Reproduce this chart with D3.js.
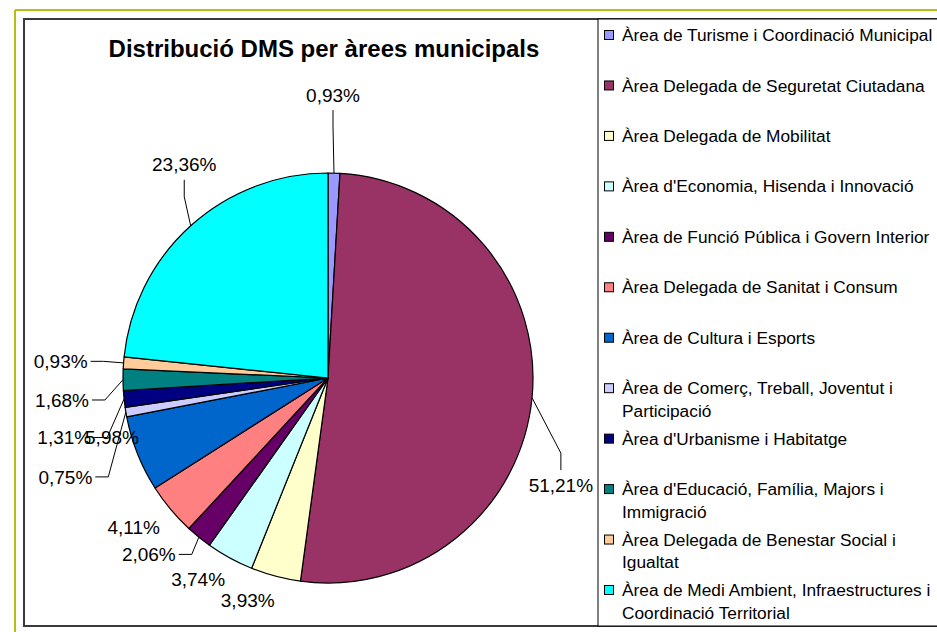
<!DOCTYPE html>
<html>
<head>
<meta charset="utf-8">
<script src="https://cdn.jsdelivr.net/npm/d3@7"></script>
<style>
  body { margin: 0; background: #fff; }
  svg { display: block; }
  text { font-family: "Liberation Sans", Arial, sans-serif; fill: #000; }
</style>
</head>
<body>
<svg id="chart" width="937" height="632"></svg>
<script>
/**
 * Pie chart: Distribució DMS per àrees municipals.
 * Values, in the order excel drew them (clockwise from 12 o'clock).
 */
var title = "Distribució DMS per àrees municipals";

var areas = [
  "Àrea de Turisme i Coordinació Municipal",
  "Àrea Delegada de Seguretat Ciutadana",
  "Àrea Delegada de Mobilitat",
  "Àrea d'Economia, Hisenda i Innovació",
  "Àrea de Funció Pública i Govern Interior",
  "Àrea Delegada de Sanitat i Consum",
  "Àrea de Cultura i Esports",
  "Àrea de Comerç, Treball, Joventut i Participació",
  "Àrea d'Urbanisme i Habitatge",
  "Àrea d'Educació, Família, Majors i Immigració",
  "Àrea Delegada de Benestar Social i Igualtat",
  "Àrea de Medi Ambient, Infraestructures i Coordinació Territorial"
];

var percents = [0.93, 51.21, 3.93, 3.74, 2.06, 4.11, 5.98, 0.75, 1.31, 1.68, 0.93, 23.36];

var colors = ["#9999FF", "#993366", "#FFFFCC", "#CCFFFF", "#660066", "#FF8080",
              "#0066CC", "#CCCCFF", "#000080", "#008080", "#FFCC99", "#00FFFF"];

// labels were dragged around by hand in the original, so nudge them from the radial spot
var labelNudge = [[-2, -43], [-6, 84], [-19, -10], [-15, -9], [-28, -10], [-10, -4],
                  [7, -29], [-26, 59], [-25, 35], [-26, 20], [-28, 1], [17, -35]];

var svg = d3.select("#chart");

// outer frame (olive) and chart area border
svg.append("line").attr("x1", 15).attr("y1", 10).attr("x2", 937).attr("y2", 10)
  .attr("stroke", "#B4BE13").attr("stroke-width", 2);
svg.append("line").attr("x1", 15).attr("y1", 10).attr("x2", 15).attr("y2", 632)
  .attr("stroke", "#B4BE13").attr("stroke-width", 2);

svg.append("rect").attr("x", 24).attr("y", 19).attr("width", 940).attr("height", 607)
  .attr("fill", "#fff").attr("stroke", "#3a3a3a").attr("stroke-width", 2);

// title
svg.append("text")
  .attr("x", 324).attr("y", 57)
  .attr("text-anchor", "middle")
  .style("font-size", "24px").style("font-weight", "bold")
  .text(title);

// pie
var cx = 328, cy = 378, radius = 205;

var pie = d3.pie().sort(null).value(d => d)(percents);
var arc = d3.arc().innerRadius(0).outerRadius(radius);

var g = svg.append("g").attr("transform", "translate(" + cx + "," + cy + ")");

g.selectAll("path.slice")
  .data(pie)
  .enter()
  .append("path")
  .attr("class", "slice")
  .attr("d", arc)
  .attr("fill", (d, i) => colors[i])
  .attr("stroke", "#000")
  .attr("stroke-width", 1.2)
  .attr("stroke-linejoin", "round");

function polar(a, r) {
  return [Math.sin(a) * r, -Math.cos(a) * r];
}

var fmt = d3.format(".2f");

var labels = g.selectAll("text.lbl")
  .data(pie)
  .enter()
  .append("text")
  .attr("class", "lbl")
  .attr("text-anchor", "middle")
  .attr("dy", "0.35em")
  .style("font-size", "19px")
  .attr("x", (d, i) => polar((d.startAngle + d.endAngle) / 2, 240)[0] + labelNudge[i][0])
  .attr("y", (d, i) => polar((d.startAngle + d.endAngle) / 2, 240)[1] + labelNudge[i][1])
  .text(d => fmt(d.value).replace(".", ",") + "%");

// leader lines for the labels that sit away from their slice
labels.each(function (d, i) {
  var mid = (d.startAngle + d.endAngle) / 2;
  var edge = polar(mid, radius);
  var lx = +this.getAttribute("x"), ly = +this.getAttribute("y");
  var dx = edge[0] - lx, dy = edge[1] - ly;
  if (Math.hypot(dx, dy) < 45) return;
  var w = this.getComputedTextLength();
  var pts;
  if (Math.abs(dx) > 0.5 * Math.abs(dy)) {
    var s = dx > 0 ? 1 : -1;
    var ax = lx + s * (w / 2 + 3);
    pts = [[ax, ly], [ax + s * 13, ly], edge];
  } else {
    var t = dy > 0 ? 1 : -1;
    var ay = ly + t * 15;
    pts = [[lx, ay], [lx, ay + t * 17], edge];
  }
  g.append("path")
    .attr("d", d3.line()(pts))
    .attr("fill", "none")
    .attr("stroke", "#000")
    .attr("stroke-width", 1);
});

// legend
var legend = svg.append("g");
legend.append("rect").attr("x", 598).attr("y", 19).attr("width", 400).attr("height", 607)
  .attr("fill", "#fff").attr("stroke", "#000").attr("stroke-width", 1);

var yLegend = d3.scalePoint().domain(d3.range(areas.length)).range([35, 590]);

var items = legend.selectAll("g.item")
  .data(areas)
  .enter()
  .append("g")
  .attr("class", "item")
  .attr("transform", (d, i) => "translate(0," + yLegend(i) + ")");

items.append("rect")
  .attr("x", 604.5).attr("y", -4.5)
  .attr("width", 9).attr("height", 9)
  .attr("fill", (d, i) => colors[i])
  .attr("stroke", "#000").attr("stroke-width", 1);

items.each(function (name) {
  var t = d3.select(this).append("text")
    .attr("x", 622).attr("y", 0)
    .attr("dy", "0.35em")
    .style("font-size", "17.3px");
  // wrap like excel does inside the legend box
  var words = name.split(" ");
  var line = [], lineNo = 0;
  var tspan = t.append("tspan").attr("x", 622).attr("dy", "0.35em");
  words.forEach(word => {
    line.push(word);
    tspan.text(line.join(" "));
    if (tspan.node().getComputedTextLength() > 320 && line.length > 1) {
      line.pop();
      tspan.text(line.join(" "));
      line = [word];
      lineNo++;
      tspan = t.append("tspan").attr("x", 622).attr("y", lineNo * 22.5).attr("dy", "0.35em").text(word);
    }
  });
});
</script>
</body>
</html>
